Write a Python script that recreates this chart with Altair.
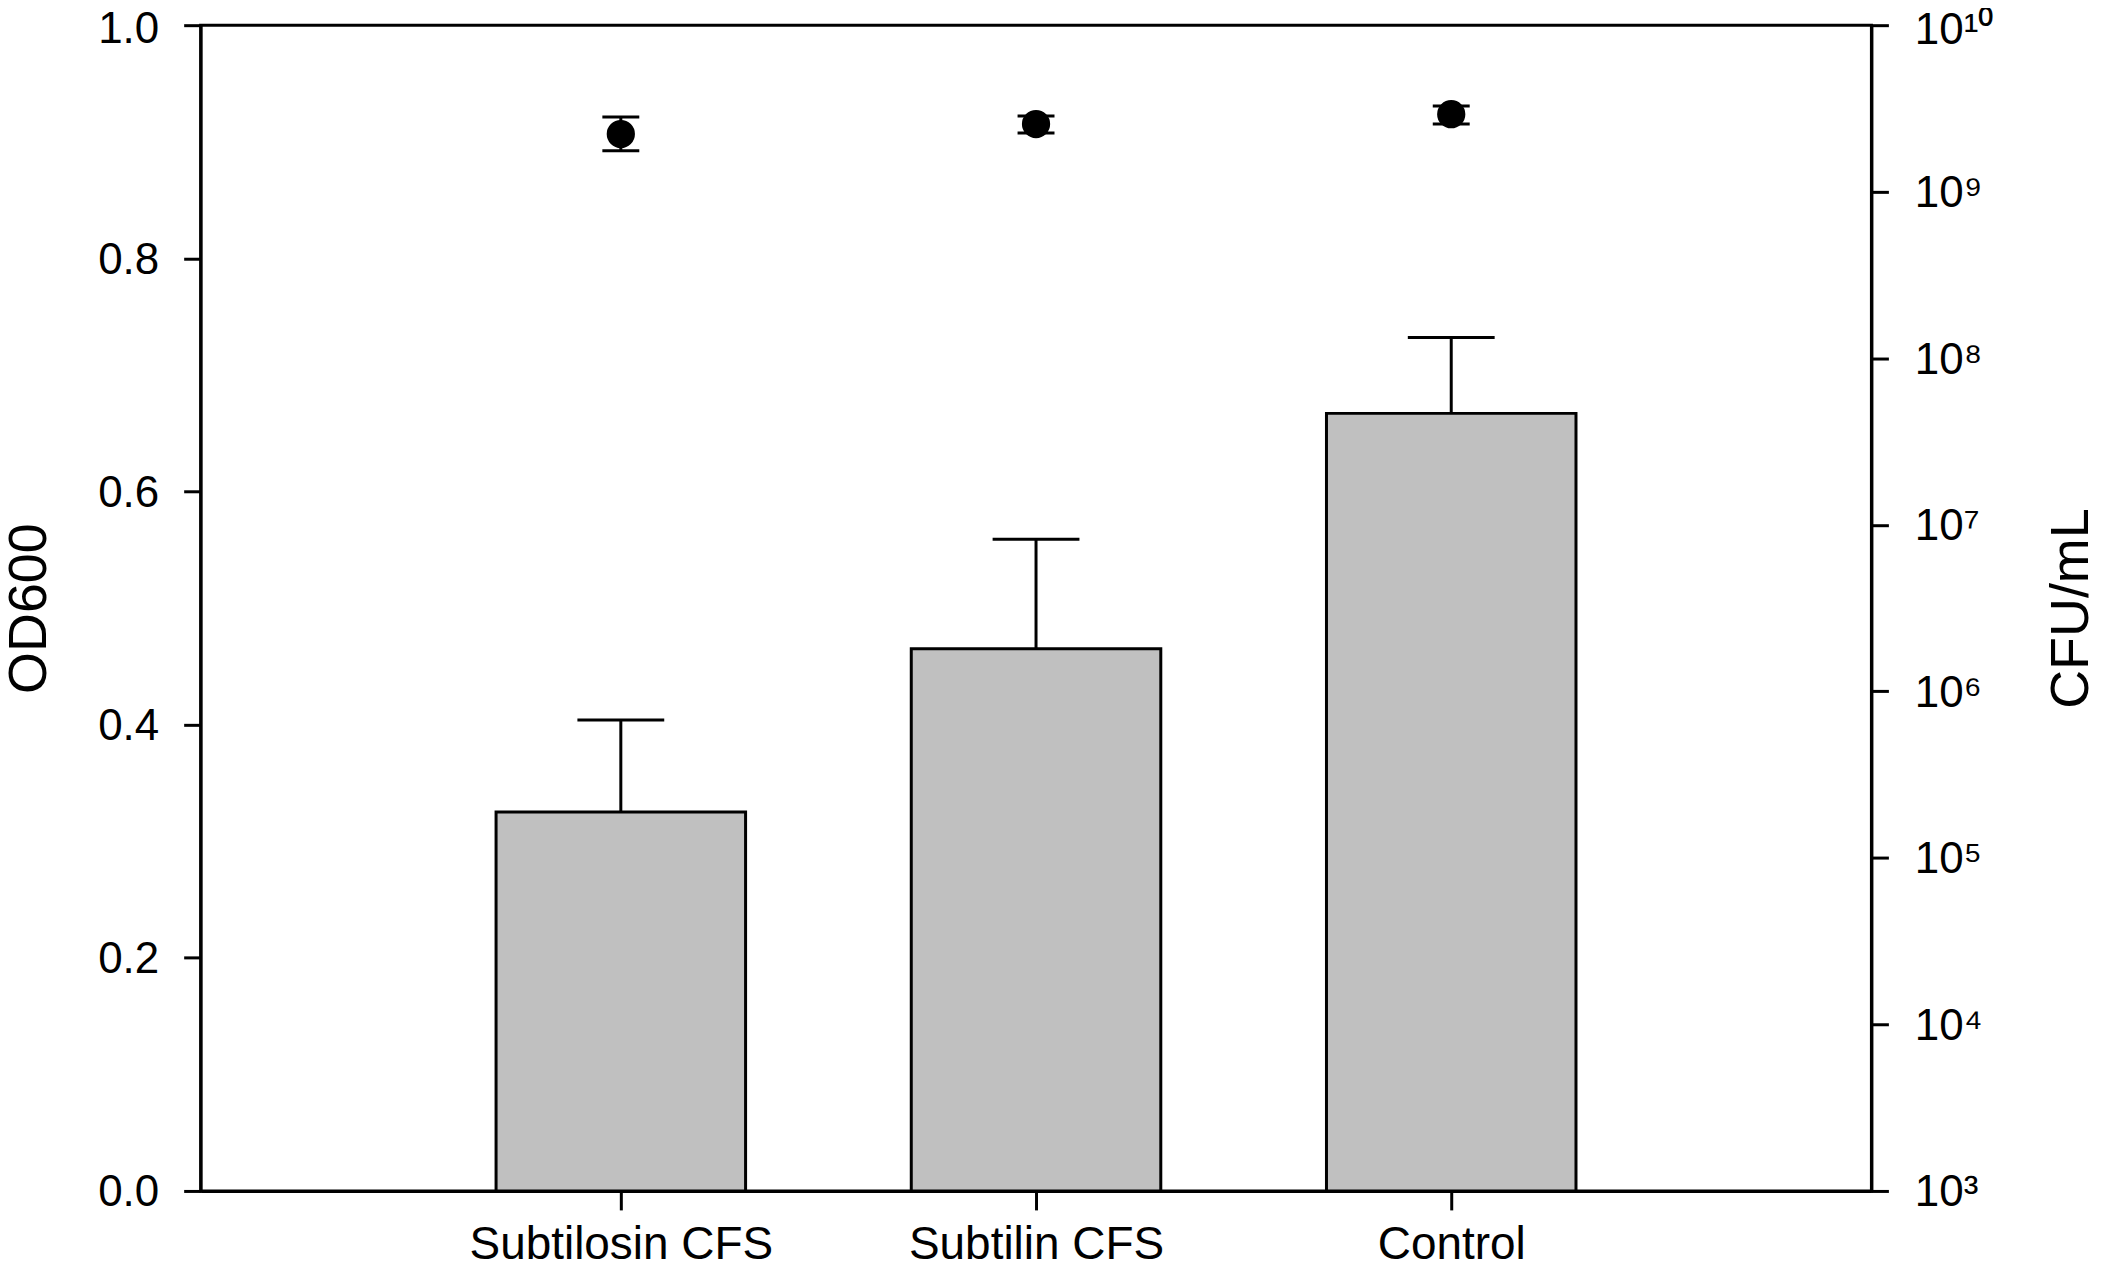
import json
import altair as alt
import pandas as pd

# ---- data ----
categories = ["Subtilosin CFS", "Subtilin CFS", "Control"]
od600 = [0.325, 0.465, 0.667]          # bar heights (left axis)
od600_err = [0.079, 0.094, 0.065]      # upper error (SD)
cfu = [2.22e9, 2.55e9, 2.92e9]         # points (right axis, log)
cfu_low = [1.76e9, 2.25e9, 2.55e9]
cfu_high = [2.81e9, 2.85e9, 3.27e9]

x_ticks = [1, 2, 3]
od_ticks = [0.0, 0.2, 0.4, 0.6, 0.8, 1.0]
cfu_ticks = [1e3, 1e4, 1e5, 1e6, 1e7, 1e8, 1e9, 1e10]

df = pd.DataFrame({
    "category": categories,
    "pos": list(range(1, len(categories) + 1)),
    "od": od600,
    "od_top": [o + e for o, e in zip(od600, od600_err)],
    "cfu": cfu,
    "cfu_low": cfu_low,
    "cfu_high": cfu_high,
})

FONT = "Liberation Sans"
W, H = 1674, 1168

cat_expr = json.dumps(categories) + "[datum.value - 1]"
x_enc = alt.X(
    "pos:Q",
    scale=alt.Scale(domain=[0, 4], nice=False, zero=False),
    axis=alt.Axis(values=x_ticks, labelExpr=cat_expr, title=None, grid=False,
                  tickSize=19, labelPadding=13, labelBaseline="top",
                  labelAlign="center", labelFlush=False, labelOverlap=False,
                  labelLimit=0, labelFontSize=46),
)

left_axis = alt.Axis(values=od_ticks, format=".1f", title="OD600", orient="left",
                     grid=False, tickSize=17, labelPadding=25,
                     labelBaseline="middle",
                     labelOffset={"condition": {"test": "datum.value >= 1", "value": 4},
                                  "value": 2},
                     titleAngle=-90, titleBaseline="middle",
                     titleAlign="center", titleX=-171, titleY=584)
left_scale = alt.Scale(domain=[0, 1], nice=False, zero=True)

sup = "\u2070\u00b9\u00b2\u00b3\u2074\u2075\u2076\u2077\u2078\u2079"
e = "round(log(datum.value) / LN10)"
cfu_label_expr = (
    f"'10' + ({e} == 10 ? '\u00b9\u2070' : substring('{sup}', {e}, {e} + 1))"
)
right_axis = alt.Axis(values=cfu_ticks, labelExpr=cfu_label_expr, title="CFU/mL",
                      orient="right", grid=False, tickSize=17, labelPadding=26,
                      labelBaseline="middle", labelLimit=0,
                      labelOffset={"condition": {"test": "datum.value >= 1e10", "value": 5},
                                   "value": 2},
                      titleAngle=-90, titleBaseline="middle",
                      titleAlign="center", titleX=200, titleY=584)
right_scale = alt.Scale(type="log", domain=[1e3, 1e10], nice=False)

base = alt.Chart(df)

bars = base.mark_bar(size=250, color="#c0c0c0", stroke="black", strokeWidth=3).encode(
    x=x_enc,
    y=alt.Y("od:Q", scale=left_scale, axis=left_axis),
)
bar_err = base.mark_rule(color="black", strokeWidth=3).encode(
    x=x_enc,
    y=alt.Y("od:Q", scale=left_scale, axis=left_axis),
    y2="od_top:Q",
)
bar_cap = base.mark_tick(orient="horizontal", size=87, thickness=3, color="black",
                         opacity=1).encode(
    x=x_enc,
    y=alt.Y("od_top:Q", scale=left_scale, axis=left_axis),
)
left_layer = alt.layer(bar_err, bar_cap, bars)

pt_err = base.mark_rule(color="black", strokeWidth=3).encode(
    x=x_enc,
    y=alt.Y("cfu_low:Q", scale=right_scale, axis=right_axis),
    y2="cfu_high:Q",
)
pt_cap_lo = base.mark_tick(orient="horizontal", size=37, thickness=3, color="black",
                           opacity=1).encode(
    x=x_enc,
    y=alt.Y("cfu_low:Q", scale=right_scale, axis=right_axis),
)
pt_cap_hi = base.mark_tick(orient="horizontal", size=37, thickness=3, color="black",
                           opacity=1).encode(
    x=x_enc,
    y=alt.Y("cfu_high:Q", scale=right_scale, axis=right_axis),
)
points = base.mark_circle(size=800, color="black", opacity=1).encode(
    x=x_enc,
    y=alt.Y("cfu:Q", scale=right_scale, axis=right_axis),
)
right_layer = alt.layer(pt_err, pt_cap_lo, pt_cap_hi, points)

chart = (
    alt.layer(left_layer, right_layer)
    .resolve_scale(y="independent")
    .properties(
        width=W, height=H,
        autosize=alt.AutoSizeParams(type="none"),
        padding={"left": 193, "top": 16, "right": 222, "bottom": 77},
        background="white",
    )
    .configure_view(stroke="black", strokeWidth=3)
    .configure_axis(
        domainColor="black", domainWidth=3, tickColor="black", tickWidth=3,
        labelFont=FONT, labelFontSize=44, labelColor="black",
        titleFont=FONT, titleFontSize=54, titleFontWeight="normal", titleColor="black",
    )
)

chart.save("out.html", embed_options={"renderer": "svg", "actions": False})
